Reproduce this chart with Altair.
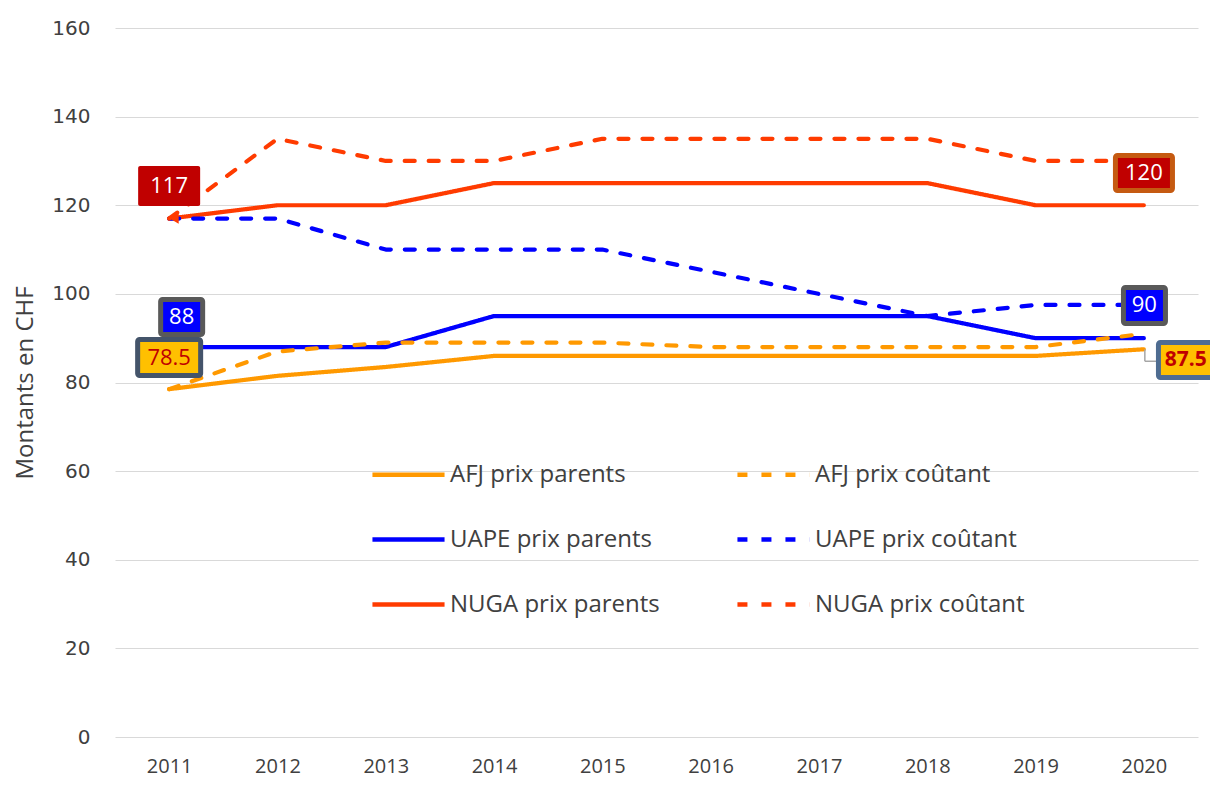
import altair as alt
import pandas as pd

years = [2011, 2012, 2013, 2014, 2015, 2016, 2017, 2018, 2019, 2020]
afj_parents = [78.5, 81.5, 83.5, 86, 86, 86, 86, 86, 86, 87.5]
afj_cout = [78.5, 87, 89, 89, 89, 88, 88, 88, 88, 91]
uape_parents = [88, 88, 88, 95, 95, 95, 95, 95, 90, 90]
uape_cout = [117, 117, 110, 110, 110, 105, 100, 95, 97.5, 97.5]
nuga_parents = [117, 120, 120, 125, 125, 125, 125, 125, 120, 120]
nuga_cout = [117, 135, 130, 130, 135, 135, 135, 135, 130, 130]

# legend is filled column by column: parents first, then coûtant
series_names = ["AFJ prix parents", "UAPE prix parents", "NUGA prix parents",
                "AFJ prix coûtant", "UAPE prix coûtant", "NUGA prix coûtant"]
series_values = [afj_parents, uape_parents, nuga_parents, afj_cout, uape_cout, nuga_cout]
series_colors = ["#FF9900", "#0000FF", "#FF3B00", "#FF9900", "#0000FF", "#FF3B00"]
series_dash = [[1, 0], [1, 0], [1, 0], [10, 14], [10, 14], [10, 14]]

# Data labels: (year, value, text)
label_years = [2011, 2011, 2011, 2020, 2020, 2020]
label_values = [117, 88, 78.5, 120, 90, 87.5]
label_texts = ["117", "88", "78.5", "120", "90", "87.5"]

rows = []
for name, vals in zip(series_names, series_values):
    for y, v in zip(years, vals):
        rows.append({"annee": y, "montant": v, "serie": name})
df = pd.DataFrame(rows)

FONT = "Open Sans"

x_scale = alt.Scale(domain=[2010.5, 2020.5], nice=False, zero=False)
y_scale = alt.Scale(domain=[0, 160], nice=False)

leg = dict(title=None, orient="none", legendX=255, legendY=408,
           columns=2, columnPadding=68, rowPadding=14,
           symbolType="stroke", symbolSize=5200, symbolStrokeWidth=4.5,
           labelFont=FONT, labelFontSize=24, labelColor="#404040",
           labelOffset=3, labelLimit=0)

lines = alt.Chart(df).mark_line(strokeWidth=4.2, strokeCap="round", strokeJoin="round").encode(
    x=alt.X("annee:Q", scale=x_scale,
            axis=alt.Axis(values=years, format="d", title=None, grid=False, domain=False,
                          ticks=False, labelPadding=19, labelFontSize=20, labelFont=FONT,
                          labelColor="#404040")),
    y=alt.Y("montant:Q", scale=y_scale,
            axis=alt.Axis(values=list(range(0, 161, 20)), title="Montants en CHF", grid=True,
                          gridColor="#D9D9D9", gridWidth=1.2, domain=False, ticks=False,
                          labelPadding=25, labelFontSize=20, labelFont="DejaVu Sans",
                          labelColor="#404040",
                          titleFont=FONT, titleFontSize=24, titleFontWeight="normal",
                          titleColor="#404040", titlePadding=14)),
    color=alt.Color("serie:N", scale=alt.Scale(domain=series_names, range=series_colors),
                    legend=alt.Legend(**leg)),
    strokeDash=alt.StrokeDash("serie:N", scale=alt.Scale(domain=series_names, range=series_dash),
                              legend=alt.Legend(**leg)),
    order=alt.Order("annee:Q"),
)

# arrow tip at the NUGA start
arrow = alt.Chart(pd.DataFrame({"annee": [years[0]], "montant": [nuga_parents[0]]})).mark_point(
    shape="triangle-left", filled=True, color="#FF3B00", size=110, opacity=1, xOffset=5
).encode(x=alt.X("annee:Q", scale=x_scale), y=alt.Y("montant:Q", scale=y_scale))

# label box styles: (x0, x1, y0, y1 offsets, fill, stroke, strokeWidth, textColor, bold, size, dx, dy)
box_styles = [
    (-31, 31, -52.6, -12.6, "#C00000", "#C00000", 0, "white", "normal", 22, 0, -32.6),
    (-8.5, 33.5, -47.5, -12.5, "#0000FF", "#595959", 5, "white", "normal", 22, 12.5, -30),
    (-31.5, 31.5, -49.6, -13.6, "#FFC000", "#44546A", 5, "#C00000", "normal", 22, 0, -31.6),
    (-28.4, 28.6, -49.75, -14.75, "#C00000", "#C55A11", 5, "white", "normal", 22, 0, -32.2),
    (-20.4, 21.6, -50.7, -14.7, "#0000FF", "#595959", 5, "white", "normal", 22, 0.5, -32.7),
    (14.6, 78, -6.8, 28.2, "#FFC000", "#4E6C91", 5, "#C00000", "bold", 21, 42, 10.7),
]

layers = [lines, arrow]

# leader lines
lead = pd.DataFrame({"annee": [2020], "montant": [87.5]})
layers.append(alt.Chart(lead).mark_rule(color="#A6A6A6", strokeWidth=1.5, yOffset=0, y2Offset=12,
                                        xOffset=1, x2Offset=1).encode(
    x=alt.X("annee:Q", scale=x_scale), x2="annee:Q",
    y=alt.Y("montant:Q", scale=y_scale), y2="montant:Q"))
layers.append(alt.Chart(lead).mark_rule(color="#A6A6A6", strokeWidth=1.5, yOffset=12, y2Offset=12,
                                        xOffset=1, x2Offset=14).encode(
    x=alt.X("annee:Q", scale=x_scale), x2="annee:Q",
    y=alt.Y("montant:Q", scale=y_scale), y2="montant:Q"))
lead88 = pd.DataFrame({"annee": [2011], "montant": [88]})
layers.append(alt.Chart(lead88).mark_rule(color="#A6A6A6", strokeWidth=1.5, yOffset=-10, y2Offset=-2,
                                          xOffset=9, x2Offset=1).encode(
    x=alt.X("annee:Q", scale=x_scale), x2="annee:Q",
    y=alt.Y("montant:Q", scale=y_scale), y2="montant:Q"))

for yr, val, txt, st in zip(label_years, label_values, label_texts, box_styles):
    x0, x1, y0, y1, fill, stroke, sw, tcol, bold, fs, dx, dy = st
    d = pd.DataFrame({"annee": [yr], "montant": [val], "txt": [txt]})
    box = alt.Chart(d).mark_rect(
        fill=fill, stroke=stroke, strokeWidth=sw, cornerRadius=2,
        xOffset=x0, x2Offset=x1, yOffset=y0, y2Offset=y1
    ).encode(x=alt.X("annee:Q", scale=x_scale), x2="annee:Q",
             y=alt.Y("montant:Q", scale=y_scale), y2="montant:Q")
    text = alt.Chart(d).mark_text(
        font=FONT, fontSize=fs, color=tcol, fontWeight=bold, dx=dx, dy=dy,
        align="center", baseline="middle"
    ).encode(x=alt.X("annee:Q", scale=x_scale), y=alt.Y("montant:Q", scale=y_scale), text="txt:N")
    layers += [box, text]

chart = alt.layer(*layers).properties(
    width=1083, height=709,
    background="white",
    autosize=alt.AutoSizeParams(type="none"),
    padding={"left": 107, "top": 20, "right": 12, "bottom": 42},
).configure_view(stroke="transparent", strokeWidth=0)

chart.save("out.html", embed_options={"renderer": "svg", "actions": False})
